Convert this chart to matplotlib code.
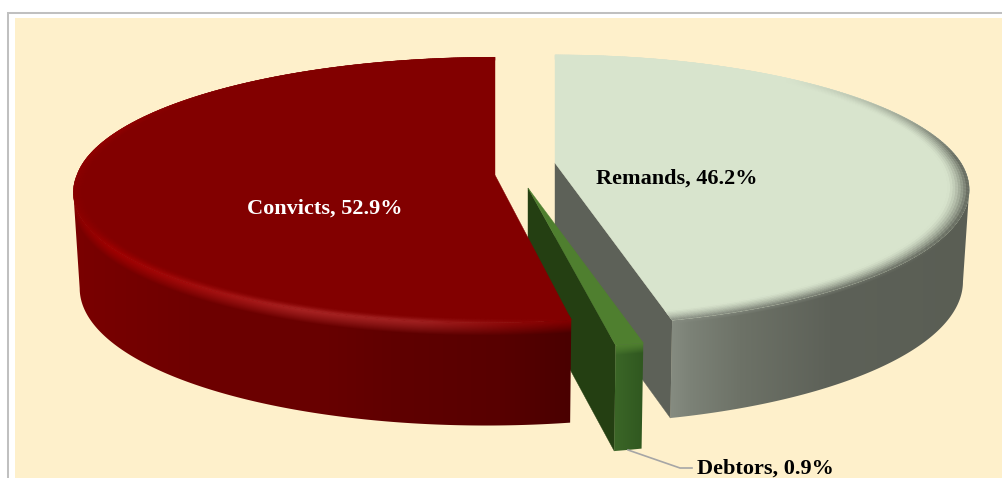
import numpy as np
import matplotlib
matplotlib.use("Agg")
import matplotlib.pyplot as plt
from matplotlib.collections import PolyCollection
from matplotlib.colors import to_rgb
from matplotlib.patches import Rectangle, Polygon

categories = ["Remands", "Debtors", "Convicts"]
shares = [46.2, 0.9, 52.9]
label_colors = ["black", "black", "white"]

# Projection and shading of each slice (screen pixels; the slice angles come from shares)
STYLE = {
    "Remands": dict(apex=(555, 163), R=406, H=130, k=0.2025, sh=2, depth=98,
                    top="#d8e4cd", rim_w=0.05, face="#5d6158", band=4,
                    wall_x=[672, 690, 740, 830, 970],
                    wall=["#858b80", "#7c8277", "#6d7267", "#5d6158", "#5a5e54"],
                    hi_x=[672, 970], hi=["#858b80", "#5a5e54"]),
    "Debtors": dict(apex=(528, 188), R=406, H=128, k=0.2025, sh=3.5, depth=106,
                    top="#4f7f2f", rim_w=0.0, face="#243f12", band=10,
                    wall_x=[615, 643], wall=["#3b6627", "#305820"],
                    hi_x=[615, 643], hi=["#4f7f2f", "#4f7f2f"]),
    "Convicts": dict(apex=(495, 175), R=418, H=131, k=0.112, sh=8, depth=103,
                     top="#820000", rim_w=0.03, face="#4a0000", band=13,
                     wall_x=[73, 200, 320, 400, 500, 570],
                     wall=["#7a0000", "#6e0000", "#680000", "#5f0000", "#580000", "#4a0000"],
                     hi_x=[73, 110, 170, 300, 420, 510, 570],
                     hi=["#8a0000", "#a00000", "#a20808", "#a82222", "#a02020", "#8c0808", "#820000"]),
}
DRAW_ORDER = ["Remands", "Debtors", "Convicts"]
LABEL_POS = {"Remands": (677, 179), "Debtors": (765, 469), "Convicts": (325, 209)}

BG = "#fef0cb"
FRAME = "#c0c0c0"
W, H_PX = 1002, 478


def project(theta, r, s):
    u, v = r * np.sin(theta), r * np.cos(theta)
    d = 1 + s["k"] * v
    x = s["apex"][0] + (s["R"] * u + s["sh"] * np.minimum(v, 0)) / d
    y = s["apex"][1] - s["H"] * v / d
    return x, y


def drop(x, y, theta, s):
    v = np.cos(theta)
    dep = s["depth"] * (1 - 0.08 * (v + 1))
    return s["apex"][0] + (x - s["apex"][0]) * 0.985, y + dep


def lerp_colors(xq, xs, colors):
    st = np.array([to_rgb(c) for c in colors])
    return np.stack([np.interp(xq, xs, st[:, j]) for j in range(3)], axis=-1)


fig = plt.figure(figsize=(10.02, 4.78), dpi=100, facecolor="white")
ax = fig.add_axes([0, 0, 1, 1])
ax.axis("off")

ax.add_patch(Rectangle((15, 18), 990, 470, fc=BG, ec="none", zorder=0))
ax.plot([8.3, 8.3, 1002], [478, 12.8, 12.8], color=FRAME, lw=1.45,
        solid_joinstyle="miter", zorder=0.5)

edges = np.cumsum([0] + shares) / sum(shares) * 2 * np.pi
spans = {c: (edges[i], edges[i + 1]) for i, c in enumerate(categories)}

z = 1
xx, yy = np.meshgrid(np.arange(W) + 0.5, np.arange(H_PX) + 0.5)
for name in DRAW_ORDER:
    s = STYLE[name]
    a0, a1 = spans[name]
    th = np.linspace(a0, a1, max(int((a1 - a0) * 180), 12))
    x, y = project(th, 1.0, s)
    xb, yb = drop(x, y, th, s)

    # visible cut face, at the closing edge of the slice
    if name != "Convicts":
        cx, cy = project(np.array([a1]), 1.0, s)
        bx, by = drop(cx, cy, np.array([a1]), s)
        ax.add_patch(Polygon([s["apex"], (cx[0], cy[0]), (bx[0], by[0]),
                              (s["apex"][0], s["apex"][1] + s["depth"] * 0.98)],
                             fc=s["face"], ec=s["face"], lw=0.3, zorder=z))
        z += 1

    # outer wall as a clipped gradient image: across the screen, plus a soft bevel below the edge
    if name == "Convicts":
        i0, i1 = 0, int(np.argmin(x)) + 1
    elif name == "Remands":
        i0, i1 = int(np.argmax(x)), len(x)
    else:
        i0, i1 = 0, len(x)
    order = np.argsort(x[i0:i1])
    edge_y = np.interp(xx, x[i0:i1][order], y[i0:i1][order])
    t = np.clip((yy - edge_y) / s["band"], 0, 1)[..., None]
    wall = lerp_colors(xx, s["wall_x"], s["wall"])
    high = lerp_colors(xx, s["hi_x"], s["hi"])
    rgb = high + (wall - high) * t ** 1.3
    poly = list(zip(x[i0:i1], y[i0:i1])) + list(zip(xb[i0:i1][::-1], yb[i0:i1][::-1]))
    clip = Polygon(poly, closed=True, transform=ax.transData)
    im = ax.imshow(rgb, extent=(0, W, H_PX, 0), aspect="auto", interpolation="nearest", zorder=z)
    im.set_clip_path(clip)
    z += 1

    # top face
    pts = [s["apex"]] + list(zip(x, y))
    ax.add_patch(Polygon(pts, closed=True, fc=s["top"], ec=s["top"], lw=0.3, zorder=z))
    z += 1

    # soft bevel round the rim of the top face
    if s["rim_w"] > 0:
        nlayer = 8
        radii = np.linspace(1 - s["rim_w"], 1.0, nlayer + 1)
        top_c = np.array(to_rgb(s["top"]))
        quads, cols = [], []
        for j in range(nlayer):
            x0, y0 = project(th, radii[j], s)
            x1, y1 = project(th, radii[j + 1], s)
            tt = (j + 0.5) / nlayer
            for i in range(len(th) - 1):
                v = np.cos((th[i] + th[i + 1]) / 2)
                strength = np.clip((0.75 - v) / 0.7, 0, 1)
                target = lerp_colors(x[i], s["hi_x"], s["hi"])
                quads.append([(x0[i], y0[i]), (x0[i + 1], y0[i + 1]),
                              (x1[i + 1], y1[i + 1]), (x1[i], y1[i])])
                cols.append(tuple(top_c + (target - top_c) * tt ** 1.5 * strength))
        ax.add_collection(PolyCollection(quads, facecolors=cols, edgecolors=cols,
                                         linewidths=0.25, zorder=z))
        z += 1

# leader line of the small slice
ax.plot([628, 680, 692], [450, 468, 468], color="#a6a6a6", lw=1.2, zorder=z)
z += 1

for c, share, col in zip(categories, shares, label_colors):
    px, py = LABEL_POS[c]
    ax.text(px, py, f"{c}, {share}%", color=col, ha="center", va="center",
            fontsize=16, fontweight="bold", family="Liberation Serif", zorder=z)

ax.set_xlim(0, W)
ax.set_ylim(H_PX, 0)
fig.savefig("out.png", dpi=100, facecolor="white")
